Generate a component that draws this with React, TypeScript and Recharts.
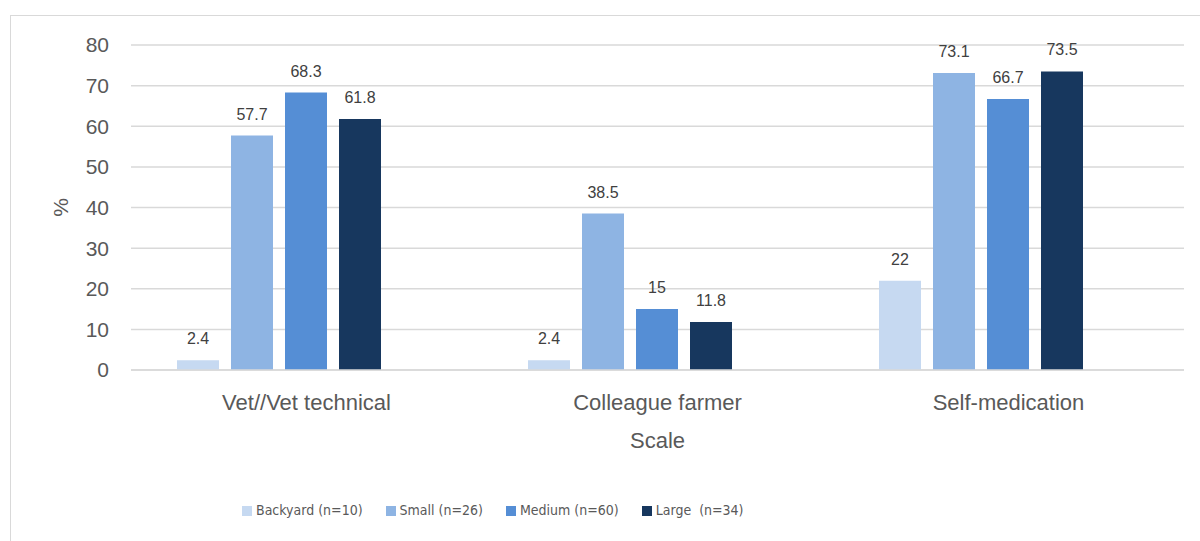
import React from 'react';
import {
  BarChart,
  Bar,
  XAxis,
  YAxis,
  CartesianGrid,
  Legend,
  LabelList,
} from 'recharts';

const categories = ['Vet//Vet technical', 'Colleague farmer', 'Self-medication'];
const backyard = [2.4, 2.4, 22];
const small = [57.7, 38.5, 73.1];
const medium = [68.3, 15, 66.7];
const large = [61.8, 11.8, 73.5];
const yTicks = [0, 10, 20, 30, 40, 50, 60, 70, 80];

const seriesNames = {
  backyard: 'Backyard (n=10)',
  small: 'Small (n=26)',
  medium: 'Medium (n=60)',
  large: 'Large  (n=34)',
};
const seriesOrder = ['backyard', 'small', 'medium', 'large'];

const data = categories.map((name, i) => ({
  name,
  backyard: backyard[i],
  small: small[i],
  medium: medium[i],
  large: large[i],
}));

const FONT = '"Liberation Sans", Arial, sans-serif';
const NARROW = '"DejaVu Sans Condensed", "Liberation Sans", sans-serif';
const TEXT = '#595959';

export default function App() {
  return (
    <div
      style={{
        position: 'absolute',
        left: 0,
        top: 0,
        width: 1200,
        height: 541,
        overflow: 'hidden',
        background: '#fff',
        fontFamily: FONT,
      }}
    >
      {/* chart frame, cut off at the right and bottom like the source */}
      <div
        style={{
          position: 'absolute',
          left: 10,
          top: 15,
          width: 1400,
          height: 800,
          border: '1px solid #d9d9d9',
        }}
      />
      <div style={{ position: 'absolute', left: 0, top: 0 }}>
        <BarChart
          width={1200}
          height={541}
          data={data}
          margin={{ top: 45, right: 16, left: 0, bottom: 22 }}
          barCategoryGap={46}
          barGap={12}
        >
          <CartesianGrid vertical={false} stroke="#d9d9d9" strokeWidth={1.5} />
          <XAxis
            dataKey="name"
            height={132}
            axisLine={{ stroke: '#d9d9d9', strokeWidth: 1.5 }}
            tickLine={false}
            tickMargin={18}
            tick={{ fill: TEXT, fontSize: 22, fontFamily: FONT }}
            label={{
              value: 'Scale',
              position: 'insideBottom',
              offset: 54,
              style: { fill: TEXT, fontSize: 22, fontFamily: FONT },
            }}
          />
          <YAxis
            width={131}
            domain={[0, 80]}
            ticks={yTicks}
            axisLine={false}
            tickLine={false}
            tickMargin={16}
            tick={{ fill: TEXT, fontSize: 21, fontFamily: FONT }}
            label={{
              value: '%',
              angle: -90,
              position: 'insideLeft',
              offset: 61,
              style: { textAnchor: 'middle', fill: TEXT, fontSize: 21, fontFamily: FONT },
            }}
          />
          <Legend
            verticalAlign="bottom"
            align="left"
            iconType="square"
            iconSize={10}
            itemSorter={(item: any) => seriesOrder.indexOf(String(item.dataKey))}
            wrapperStyle={{ left: 242, width: 'auto', fontSize: 14, fontFamily: NARROW, lineHeight: '17px' }}
            formatter={(value: string) => (
              <span style={{ color: TEXT, whiteSpace: 'pre', marginRight: 13 }}>{value}</span>
            )}
          />
          <Bar dataKey="backyard" name={seriesNames.backyard} fill="#C6D9F1" isAnimationActive={false}>
            <LabelList dataKey="backyard" position="top" offset={16} fill="#404040" fontSize={16} fontFamily={FONT} />
          </Bar>
          <Bar dataKey="small" name={seriesNames.small} fill="#8EB4E3" isAnimationActive={false}>
            <LabelList dataKey="small" position="top" offset={16} fill="#404040" fontSize={16} fontFamily={FONT} />
          </Bar>
          <Bar dataKey="medium" name={seriesNames.medium} fill="#558ED5" isAnimationActive={false}>
            <LabelList dataKey="medium" position="top" offset={16} fill="#404040" fontSize={16} fontFamily={FONT} />
          </Bar>
          <Bar dataKey="large" name={seriesNames.large} fill="#17375E" isAnimationActive={false}>
            <LabelList dataKey="large" position="top" offset={16} fill="#404040" fontSize={16} fontFamily={FONT} />
          </Bar>
          {/* empty fifth slot: the source leaves room for one more series in each group */}
          <Bar dataKey="spacer" legendType="none" fill="none" isAnimationActive={false} />
        </BarChart>
      </div>
    </div>
  );
}
